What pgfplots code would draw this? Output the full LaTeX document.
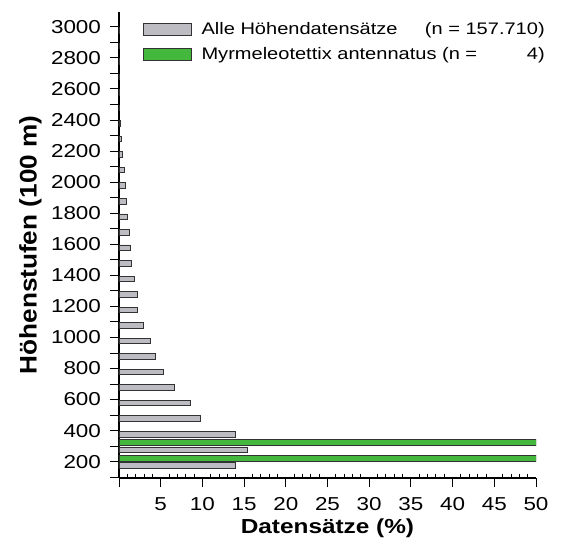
\documentclass[border=0pt]{standalone}
\usepackage{pgfplots}
\pgfplotsset{compat=1.18}
\usepackage{pgfplotstable}
\usepackage{graphicx}
\usepackage{fontspec}
\setmainfont{Liberation Sans}
\definecolor{bargray}{RGB}{188,188,194}
\definecolor{bargreen}{RGB}{68,184,60}
\pgfplotstableread{
y v
200 14.0
300 15.4
400 13.9
500 9.7
600 8.6
700 6.6
800 5.35
900 4.4
1000 3.8
1100 2.9
1200 2.25
1300 2.2
1400 1.8
1500 1.5
1600 1.4
1700 1.2
1800 1.0
1900 0.9
2000 0.8
2100 0.6
2200 0.4
2300 0.25
2400 0.15
2500 0.1
2600 0.06
2700 0.03
2800 0.02
2900 0.02
3000 0.01
}\gray
\pgfplotstableread{
y v
200 50
300 50
}\green
\begin{document}
\begin{tikzpicture}
\useasboundingbox (-119pt,-71pt) rectangle (452pt,478pt);
\begin{axis}[
  at={(0pt,0pt)}, anchor=south west,
  scale only axis,
  width=417pt, height=466pt,
  xmin=0, xmax=50, ymin=95, ymax=3095,
  axis lines*=left,
  axis line style={line width=1.1pt, black},
  xtick={0,5,...,50},
  xticklabels={,5,10,15,20,25,30,35,40,45,50},
  minor x tick num=4,
  minor x tick style={yshift=3.5pt},
  ytick={100,200,...,3000},
  yticklabels={,200,,400,,600,,800,,1000,,1200,,1400,,1600,,1800,,2000,,2200,,2400,,2600,,2800,,3000},
  tick align=outside,
  major tick length=9pt,
  minor tick length=3.5pt,
  tick style={black, line width=0.9pt},
  /pgf/number format/assume math mode=true,
  ticklabel style={font=\fontsize{18.7}{20}\selectfont, xscale=1.2},
  xticklabel style={yshift=-7pt},
  yticklabel style={xshift=-4pt},
  xlabel={\scalebox{1.2}[1]{\textbf{Datensätze (\%)}}},
  ylabel={\scalebox{1.09}[1]{\textbf{Höhenstufen (100 m)}}},
  xlabel style={font=\fontsize{20.3}{22}\selectfont, yshift=-1pt},
  ylabel style={font=\fontsize{24}{26}\selectfont, yshift=2pt},
  legend style={draw=none, fill=none, at={(0,1)}, anchor=north west,
    xshift=21pt, yshift=-6pt, font=\fontsize{16.7}{18}\selectfont,
    row sep=8pt},
  legend cell align=left,
]
\addplot[xbar, bar width=5.5pt, bar shift=-3.5pt, fill=bargray, draw=black!80, line width=0.7pt,
  legend image code/.code={\path[draw=none,fill=none] (0pt,0pt) -- (56pt,0pt); \draw[fill=bargray, draw=black!80, line width=0.7pt] (0pt,-6pt) rectangle (48pt,6pt);}]
  table[x=v, y=y] {\gray};
\addlegendentry{\scalebox{1.2}[1]{\makebox[286pt][l]{Alle Höhendatensätze\hfill(n = 157.710)}}}
\addplot[xbar, bar width=6pt, bar shift=3.5pt, fill=bargreen, draw=black!80, line width=0.7pt,
  legend image code/.code={\path[draw=none,fill=none] (0pt,0pt) -- (56pt,0pt); \draw[fill=bargreen, draw=black!80, line width=0.7pt] (0pt,-6pt) rectangle (48pt,6pt);}]
  table[x=v, y=y] {\green};
\addlegendentry{\scalebox{1.2}[1]{\makebox[286pt][l]{Myrmeleotettix antennatus (n =\hfill 4)}}}
\end{axis}
\end{tikzpicture}
\end{document}
